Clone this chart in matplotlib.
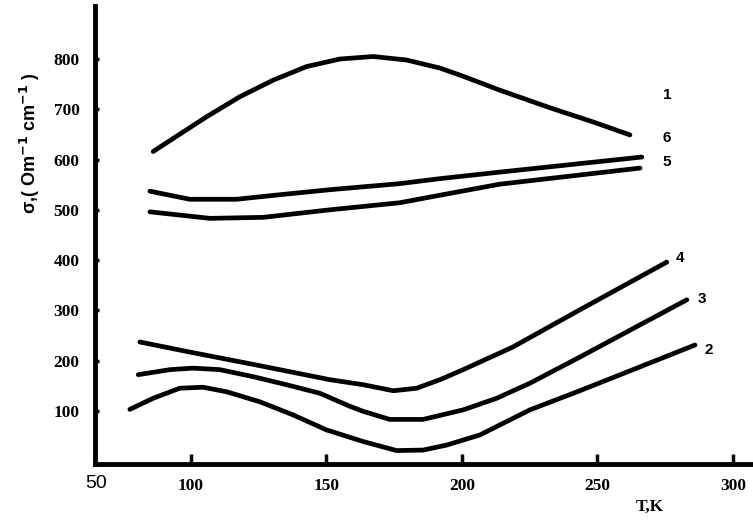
import matplotlib
matplotlib.use("Agg")
import matplotlib.pyplot as plt

# curves: temperature (K) and conductivity
t1 = [86.1, 93.5, 105.8, 118.1, 130.4, 142.7, 155, 167.3, 179.6, 191.9, 199.3, 214, 232.5, 248.3, 262]
s1 = [616, 642, 685, 725, 758, 785, 800, 805, 798, 782, 768, 738, 703, 675, 649]

t6 = [84.9, 99.6, 116.9, 132.8, 151.3, 177, 191.9, 214, 266.4]
s6 = [537, 521, 521, 530, 540, 552, 562, 575, 605]

t5 = [84.9, 107, 126.7, 151.3, 177, 191.9, 214, 265.7]
s5 = [496, 483, 485, 500, 514, 529, 551, 583]

t4 = [81.2, 99.6, 124.4, 151.3, 163.6, 174.7, 183.3, 191.9, 200.5, 218.8, 243.5, 275.6]
s4 = [237, 217, 191, 162, 152, 140, 145, 162, 182, 227, 301, 396]

t3 = [80.6, 92.3, 100.8, 110.7, 123, 135.3, 147.6, 158.7, 163.6, 173.4, 185.7, 200.5,
      212.8, 225.1, 243.5, 283]
s3 = [172, 182, 185, 182, 168, 152, 135, 109, 99, 83, 83, 102, 125, 155, 207, 321]

t2 = [77.5, 86.1, 95.9, 104.5, 113.2, 125.5, 137.7, 150.1, 163.6, 175.9, 185.7, 194.4,
      206.6, 225.1, 243.5, 286]
s2 = [103, 125, 145, 147, 138, 118, 92, 62, 39, 21, 22, 32, 52, 102, 140, 231]

curve_names = ["1", "6", "5", "4", "3", "2"]
name_t = [275.7, 275.7, 275.7, 280.5, 288.6, 291]
name_s = [728, 642, 596, 404, 322, 222]

xticks = [100, 150, 200, 250, 300]
yticks = [100, 200, 300, 400, 500, 600, 700, 800]

fig = plt.figure(figsize=(7.53, 5.2), dpi=100)
ax = fig.add_axes([0.126, 0.108, 0.874, 0.880])

for t, s in [(t1, s1), (t6, s6), (t5, s5), (t4, s4), (t3, s3), (t2, s2)]:
    ax.plot(t, s, "-", color="black", lw=3.4, solid_capstyle="round",
            solid_joinstyle="round")

for name, t, s in zip(curve_names, name_t, name_s):
    ax.text(t, s, name, fontsize=11, fontweight="bold", family="Liberation Sans",
            ha="center", va="center")

ax.set_xlim(64.6, 307.4)
ax.set_ylim(-5.4, 905)
ax.spines["top"].set_visible(False)
ax.spines["right"].set_visible(False)
ax.spines["left"].set_linewidth(3.5)
ax.spines["bottom"].set_linewidth(3.5)

ax.set_xticks(xticks)
ax.set_yticks(yticks)
ax.tick_params(axis="x", direction="in", length=7, width=2.5, pad=10)
ax.tick_params(axis="y", direction="in", length=3, width=2.5, pad=11)
for lab in ax.get_xticklabels() + ax.get_yticklabels():
    lab.set_family("Liberation Serif")
    lab.set_fontweight("bold")
    lab.set_fontsize(12.5)

# the "50" sits at the axis corner
fig.text(96 / 753, 1 - 484 / 520, "50", fontsize=14, family="Liberation Sans",
         ha="center", va="center")
fig.text(650 / 753, 1 - 507 / 520, "T,K", fontsize=12.5, family="Liberation Serif",
         fontweight="bold", ha="center", va="center")
fig.text(30 / 753, 1 - 143 / 520, r"σ,( Om$^{\mathbf{-1}}$ cm$^{\mathbf{-1}}$ )",
         fontsize=13, family="Liberation Sans", fontweight="bold",
         rotation=90, ha="center", va="center")

fig.savefig("out.png", dpi=100)
